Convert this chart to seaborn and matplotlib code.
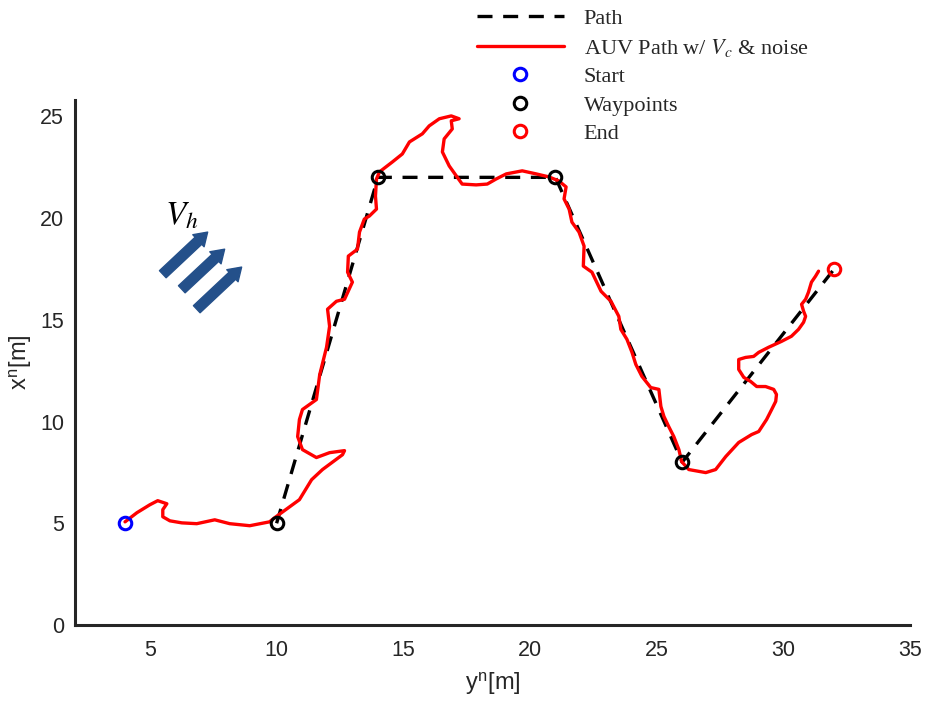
import matplotlib
matplotlib.use("Agg")
import matplotlib.pyplot as plt
import seaborn as sns
import pandas as pd

# Planned path through the waypoints (east y^n, north x^n)
path_y = [10, 14, 21, 26, 32]
path_x = [5, 22, 22, 8, 17.5]

# Measured AUV track with current V_c and sensor noise
auv_y = [4.02, 4.49, 5.0, 5.31, 5.67, 5.51, 5.51, 5.79, 6.26, 6.85, 7.56, 8.15, 8.94, 9.72, 9.92,
         10.9, 11.38, 11.81, 12.6, 12.68, 12.09, 11.57, 11.02, 10.83, 10.9, 11.02, 11.57,
         11.7, 11.97, 12.09, 12.01, 12.36, 12.68, 12.99, 12.8, 12.83, 13.19, 13.27, 13.46, 13.66,
         13.94, 13.9, 13.94, 14.06, 14.57, 14.96, 15.24, 15.75, 16.02, 16.42, 16.89, 17.2, 16.89,
         16.93, 16.61, 16.54, 16.81, 17.09, 17.32, 17.87, 18.31, 18.66, 19.06, 19.69, 20.24, 20.75,
         21.14, 21.42, 21.34, 21.54, 21.65, 21.93, 22.13, 22.1, 22.44, 22.8, 23.19, 23.5, 23.58,
         23.82, 24.02, 24.17, 24.41, 24.76, 25.08, 25.16, 25.28, 25.47, 25.67, 25.87, 25.98, 26.26,
         26.93, 27.32, 27.72, 28.23, 28.74, 29.02, 29.33, 29.53, 29.69, 29.72, 29.61, 29.29, 28.94,
         28.7, 28.43, 28.23, 28.23, 28.5, 28.82, 29.02, 29.41, 29.92, 30.31, 30.59, 30.79, 30.87,
         30.79, 30.71, 30.87, 30.98, 31.1, 31.26, 31.38]
auv_x = [5.07, 5.52, 5.91, 6.11, 5.96, 5.67, 5.32, 5.12, 5.02, 4.98, 5.17, 4.98, 4.88, 5.07, 5.27,
         6.16, 7.14, 7.64, 8.37, 8.57, 8.47, 8.23, 8.62, 9.26, 10.1, 10.59, 11.08,
         12.3, 13.65, 14.68, 15.52, 15.91, 16.01, 16.85, 17.34, 18.13, 18.47, 19.31, 19.95, 20.1,
         20.44, 21.08, 21.92, 22.27, 22.76, 23.15, 23.74, 24.14, 24.53, 24.88, 25.02, 24.88, 24.78,
         24.38, 23.89, 23.25, 22.56, 22.07, 21.67, 21.63, 21.67, 21.92, 22.17, 22.32, 22.17, 22.02,
         21.82, 21.53, 20.94, 20.44, 19.8, 19.31, 18.62, 17.64, 17.34, 16.4, 15.91, 15.17, 14.53,
         14.04, 13.4, 12.81, 12.22, 11.67, 11.58, 10.74, 10.25, 9.75, 9.26, 8.62, 8.03, 7.64,
         7.49, 7.64, 8.28, 8.97, 9.36, 9.51, 10.1, 10.59, 10.99, 11.33, 11.58, 11.72, 11.72,
         11.97, 12.17, 12.56, 13.05, 13.15, 13.2, 13.4, 13.65, 13.94, 14.19, 14.53, 14.88, 15.17,
         15.42, 15.76, 16.01, 16.35, 16.85, 17.14, 17.39]

start_y, start_x = [4], [5]
wp_y = [10, 14, 21, 26]
wp_x = [5, 22, 22, 8]
end_y, end_x = [32], [17.5]

x_ticks = [5, 10, 15, 20, 25, 30, 35]
y_ticks = [0, 5, 10, 15, 20, 25]

sns.set_theme(style="white")
plt.rcParams["font.family"] = ["Liberation Sans", "DejaVu Sans"]
plt.rcParams["mathtext.fontset"] = "stix"

fig = plt.figure(figsize=(9.27, 7.01), dpi=100)
ax = fig.add_axes([0.081, 0.1084, 0.901, 0.7489])

path_df = pd.DataFrame({"y": path_y, "x": path_x})
auv_df = pd.DataFrame({"y": auv_y, "x": auv_x})

sns.lineplot(data=path_df, x="y", y="x", sort=False, estimator=None, ax=ax,
             color="black", lw=2.4, linestyle=(0, (4.5, 3.2)), label="Path")
sns.lineplot(data=auv_df, x="y", y="x", sort=False, estimator=None, ax=ax,
             color="#ff0000", lw=2.4, label=r"AUV Path w/ $V_c$ & noise")
marker_kw = dict(marker="o", linestyle="", mfc="none", ms=9, mew=2.2, sort=False, estimator=None, ax=ax)
sns.lineplot(x=start_y, y=start_x, color="#0000ff", mec="#0000ff", label="Start", **marker_kw)
sns.lineplot(x=wp_y, y=wp_x, color="black", mec="black", label="Waypoints", **marker_kw)
sns.lineplot(x=end_y, y=end_x, color="#ff0000", mec="#ff0000", label="End", **marker_kw)

ax.set_xlim(2.05, 35)
ax.set_ylim(0, 25.8)
ax.set_xticks(x_ticks)
ax.set_yticks(y_ticks)
ax.tick_params(direction="in", length=6, width=1.8, colors="#262626", labelsize=15.5)
ax.tick_params(axis="x", pad=11)
ax.tick_params(axis="y", pad=8)
for s in ["top", "right"]:
    ax.spines[s].set_visible(False)
for s in ["left", "bottom"]:
    ax.spines[s].set_color("#262626")
    ax.spines[s].set_linewidth(2.2)

ax.set_xlabel(r"y$^{\mathregular{n}}$[m]", fontsize=17, color="#262626", labelpad=6)
ax.set_ylabel(r"x$^{\mathregular{n}}$[m]", fontsize=17, color="#262626", labelpad=4)

# Current direction indicator
arrow_color = "#24508a"
for (x0, y0), (x1, y1) in [((5.51, 17.24), (7.28, 19.31)),
                           ((6.26, 16.5), (7.95, 18.47)),
                           ((6.85, 15.52), (8.62, 17.59))]:
    ax.annotate("", xy=(x1, y1), xytext=(x0, y0),
                arrowprops=dict(arrowstyle="simple,head_length=0.65,head_width=0.85,tail_width=0.5",
                                color=arrow_color, mutation_scale=14, shrinkA=0, shrinkB=0))
ax.text(6.25, 20.1, r"$V_h$", fontsize=24, color="black", ha="center", va="center")

handles, labels = ax.get_legend_handles_labels()
ax.legend(handles, labels, loc="upper left", bbox_to_anchor=(477 / 927, 1 - 8 / 701),
          bbox_transform=fig.transFigure, frameon=False, borderpad=0, borderaxespad=0,
          handlelength=3.9, handletextpad=0.9, labelspacing=0.36,
          prop={"family": ["Liberation Serif"], "size": 16})

fig.savefig("out.png", dpi=100)
